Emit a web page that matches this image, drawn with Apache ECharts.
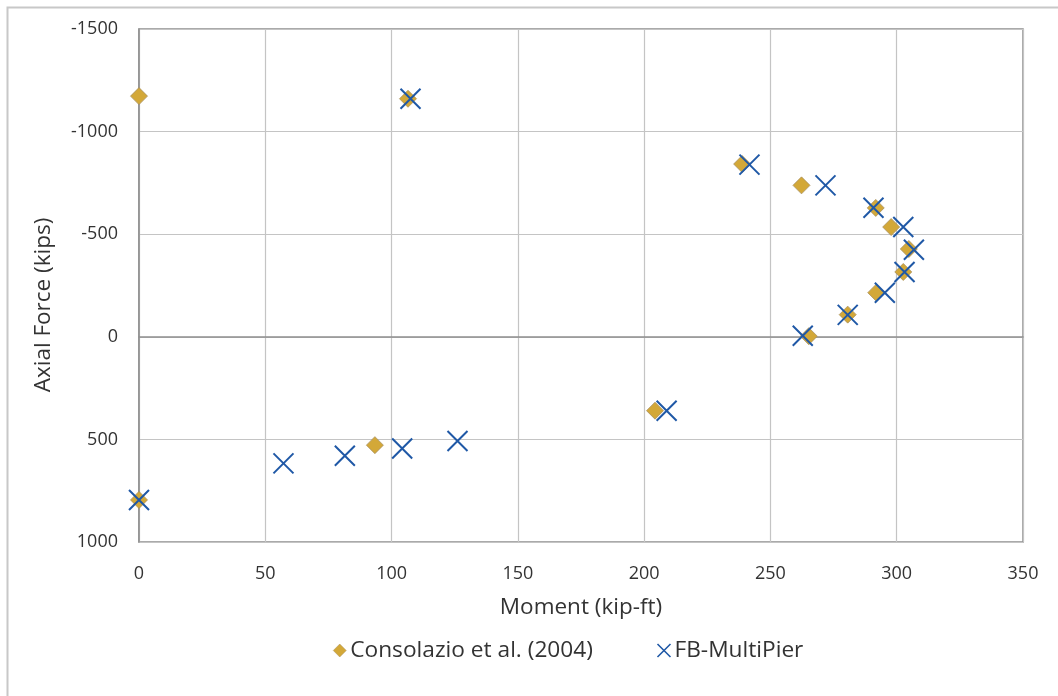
<!DOCTYPE html>
<html>
<head>
<meta charset="utf-8">
<script src="https://cdn.jsdelivr.net/npm/echarts@6/dist/echarts.min.js"></script>
<style>
  html, body { margin: 0; padding: 0; background: #ffffff; }
  #chart { width: 1058px; height: 696px; }
</style>
</head>
<body>
<div id="chart"></div>
<script>
// Interaction diagram: moment vs. axial force for two methods
const seriesNames = ['Consolazio et al. (2004)', 'FB-MultiPier'];

// [moment (kip-ft), axial force (kips)]
const consolazio = [
  [0, -1173], [106.5, -1160], [238.8, -842], [262.3, -738], [291.7, -628],
  [297.8, -535], [304.8, -428], [302.6, -316], [291.9, -215], [280.6, -108],
  [265.2, -3], [204.3, 360], [93.4, 528], [0, 795]
];
const fbMultiPier = [
  [107.5, -1160], [241.7, -839], [271.8, -738], [290.8, -629], [302.6, -535],
  [306.8, -424], [303.1, -316], [295.3, -215], [280.6, -107], [262.8, -5],
  [208.9, 360], [126.1, 508], [104.2, 544], [81.5, 580], [57.2, 617], [0, 795]
];

const xTitle = 'Moment (kip-ft)';
const yTitle = 'Axial Force (kips)';

const FONT = '"Open Sans", "Noto Sans", sans-serif';
const TEXT = '#333333';
const X_PATH = 'path://M0,0L20,20M20,0L0,20';

const chart = echarts.init(document.getElementById('chart'));
chart.setOption({
  animation: false,
  backgroundColor: '#ffffff',
  textStyle: { fontFamily: FONT },
  grid: { left: 139, top: 29, right: 35, bottom: 154, show: true,
          borderColor: '#8f8f8f', borderWidth: 1.5, backgroundColor: 'transparent' },
  xAxis: {
    type: 'value', min: 0, max: 350, interval: 50,
    name: xTitle, nameLocation: 'middle', nameGap: 54,
    nameTextStyle: { fontSize: 22.5, color: TEXT, fontFamily: FONT },
    axisLine: { show: true, lineStyle: { color: '#8f8f8f', width: 1.5 } },
    axisTick: { show: false },
    axisLabel: { fontSize: 18, color: TEXT, margin: 23, fontFamily: FONT,
                 formatter: v => String(v) },
    splitLine: { show: true, lineStyle: { color: '#c4c4c4', width: 1.2 } }
  },
  yAxis: {
    type: 'value', min: -1500, max: 1000, interval: 500, inverse: true,
    axisLine: { show: true, lineStyle: { color: '#8f8f8f', width: 1.5 } },
    axisTick: { show: false },
    axisLabel: { fontSize: 18, color: TEXT, margin: 21, fontFamily: FONT,
                 formatter: v => String(v) },
    splitLine: { show: true, lineStyle: { color: '#c4c4c4', width: 1.2 } }
  },
  legend: {
    bottom: 29, left: 328, itemGap: 62, itemWidth: 13, itemHeight: 13,
    textStyle: { fontSize: 22.7, color: TEXT, fontFamily: FONT, padding: [0, 0, 0, -1] },
    data: [
      { name: seriesNames[0], icon: 'diamond',
        itemStyle: { color: '#d3a838', borderColor: '#a89060', borderWidth: 0.5 } },
      { name: seriesNames[1], icon: X_PATH,
        itemStyle: { color: 'none', borderColor: '#1f58a6', borderWidth: 1.6 } }
    ]
  },
  graphic: [
    { type: 'rect', left: 5, top: 5, z: -10, silent: true,
      shape: { width: 1100, height: 1000 },
      style: { fill: 'none', stroke: '#c8c8c8', lineWidth: 2 } },
    { type: 'text', x: 44, y: 305, rotation: Math.PI / 2, silent: true,
      style: { text: yTitle, fontSize: 22.5, fill: TEXT, fontFamily: FONT,
               align: 'center', verticalAlign: 'middle' } }
  ],
  series: [
    {
      name: seriesNames[0], type: 'scatter', data: consolazio,
      symbol: 'diamond', symbolSize: 17,
      itemStyle: { color: '#d3a838', borderColor: '#a89060', borderWidth: 0.8, opacity: 1 },
      z: 2
    },
    {
      name: seriesNames[1], type: 'scatter', data: fbMultiPier,
      symbol: X_PATH, symbolSize: 20,
      itemStyle: { color: 'none', borderColor: '#1f58a6', borderWidth: 2, opacity: 1 },
      z: 3
    }
  ]
});
</script>
</body>
</html>
